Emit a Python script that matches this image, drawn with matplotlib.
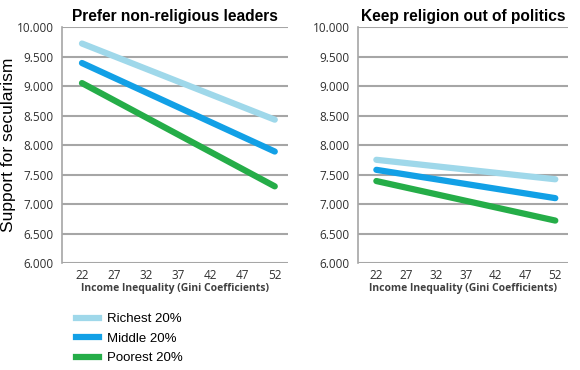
import matplotlib.pyplot as plt
from matplotlib.lines import Line2D

# Gini coefficient ticks and the two ends of each fitted line
gini_ticks = [22, 27, 32, 37, 42, 47, 52]
gini_ends = [22, 52]

# Prefer non-religious leaders
leaders_richest = [9.72, 8.43]
leaders_middle = [9.39, 7.89]
leaders_poorest = [9.05, 7.30]

# Keep religion out of politics
politics_richest = [7.75, 7.42]
politics_middle = [7.58, 7.10]
politics_poorest = [7.39, 6.72]

groups = ['Richest 20%', 'Middle 20%', 'Poorest 20%']
colors = ['#9fd8ea', '#12a0e6', '#25ad48']
y_ticks = [6.0, 6.5, 7.0, 7.5, 8.0, 8.5, 9.0, 9.5, 10.0]


def draw_panel(ax, series, title):
    for vals, c in zip(series, colors):
        ax.plot(gini_ends, vals, color=c, linewidth=4.5, solid_capstyle='round')
    ax.set_xlim(18.9, 54.1)
    ax.set_ylim(6.0, 10.0)
    ax.set_yticks(y_ticks)
    ax.set_yticklabels([f'{v:.3f}' for v in y_ticks], fontsize=8.5,
                       family='Open Sans', color='#303030')
    ax.set_xticks(gini_ticks)
    ax.set_xticklabels([str(g) for g in gini_ticks], fontsize=8.5,
                       family='Open Sans', color='#303030')
    ax.tick_params(length=0, pad=6)
    ax.tick_params(axis='x', pad=4)
    ax.grid(axis='y', color='#a6a6a6', linewidth=1.5)
    ax.set_axisbelow(True)
    for s in ['top', 'right', 'bottom']:
        ax.spines[s].set_visible(False)
    ax.spines['left'].set_color('#a6a6a6')
    ax.spines['left'].set_linewidth(1.2)
    ax.set_xlabel('Income Inequality (Gini Coefficients)', fontsize=7.5,
                  family='Open Sans', fontweight='bold', color='#404040', labelpad=1)
    ax.set_title(title, fontsize=11.2, family='Liberation Sans', fontweight='bold', pad=4)


fig = plt.figure(figsize=(5.8, 3.7), dpi=100)
ax1 = fig.add_axes([0.107, 0.289, 0.390, 0.638])
ax2 = fig.add_axes([0.617, 0.289, 0.362, 0.638])

draw_panel(ax1, [leaders_richest, leaders_middle, leaders_poorest], 'Prefer non-religious leaders')
draw_panel(ax2, [politics_richest, politics_middle, politics_poorest], 'Keep religion out of politics')
fig.text(0.002, 0.608, 'Support for secularism', rotation=90, ha='left', va='center',
         fontsize=12.5, family='Liberation Sans')

handles = [Line2D([0], [0], color=c, linewidth=4.5) for c in colors]
fig.legend(handles, groups, loc='upper left', bbox_to_anchor=(0.11, 0.186),
           frameon=False, prop={'family': 'Liberation Sans', 'size': 9.5},
           handlelength=1.8, handletextpad=0.6, labelspacing=0.55)

fig.savefig('out.png', dpi=100)
